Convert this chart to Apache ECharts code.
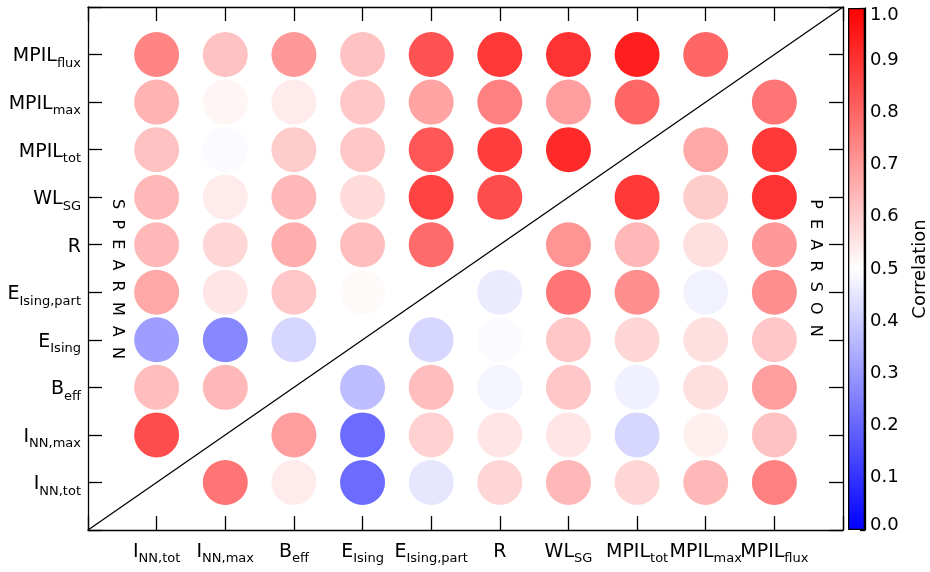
<!DOCTYPE html>
<html><head><meta charset="utf-8">
<script src="https://cdn.jsdelivr.net/npm/echarts@6/dist/echarts.min.js"></script>
<style>html,body{margin:0;padding:0;background:#fff}#c{width:930px;height:572px}</style>
</head><body><div id="c"></div>
<script>
// Variable labels (main text, subscript)
const varMain = ['I', 'I', 'B', 'E', 'E', 'R', 'WL', 'MPIL', 'MPIL', 'MPIL'];
const varSub  = ['NN,tot', 'NN,max', 'eff', 'Ising', 'Ising,part', '', 'SG', 'tot', 'max', 'flux'];

// Correlation rows (row variable = y position 1..10), columns follow varMain order.
// Upper-left triangle (column < row) = Spearman, lower-right (column > row) = Pearson.
const corrINNtot   = [null, 0.77, 0.54, 0.21, 0.45, 0.58, 0.64, 0.58, 0.64, 0.75];
const corrINNmax   = [0.85, null, 0.69, 0.21, 0.59, 0.55, 0.55, 0.42, 0.53, 0.62];
const corrBeff     = [0.63, 0.64, null, 0.37, 0.63, 0.48, 0.61, 0.47, 0.56, 0.69];
const corrEIsing   = [0.31, 0.265, 0.42, null, 0.42, 0.49, 0.61, 0.58, 0.56, 0.61];
const corrEpart    = [0.67, 0.55, 0.61, 0.51, null, 0.46, 0.77, 0.72, 0.475, 0.72];
const corrR        = [0.64, 0.58, 0.66, 0.63, 0.79, null, 0.71, 0.64, 0.56, 0.70];
const corrWL       = [0.64, 0.54, 0.64, 0.57, 0.87, 0.85, null, 0.89, 0.60, 0.90];
const corrMPILtot  = [0.62, 0.49, 0.60, 0.61, 0.83, 0.88, 0.92, null, 0.67, 0.89];
const corrMPILmax  = [0.65, 0.52, 0.54, 0.61, 0.68, 0.75, 0.69, 0.80, null, 0.77];
const corrMPILflux = [0.74, 0.62, 0.70, 0.62, 0.84, 0.89, 0.90, 0.94, 0.80, null];

const colorbarTicks = [0.0, 0.1, 0.2, 0.3, 0.4, 0.5, 0.6, 0.7, 0.8, 0.9, 1.0];

const rows = [corrINNtot, corrINNmax, corrBeff, corrEIsing, corrEpart, corrR, corrWL, corrMPILtot, corrMPILmax, corrMPILflux];
const points = [];
rows.forEach((row, yi) => row.forEach((v, xi) => { if (v !== null) points.push([xi + 1, yi + 1, v]); }));

const FONT = 'DejaVu Sans';
const rich = {
  m: { fontFamily: FONT, fontSize: 19, lineHeight: 22, color: '#000' },
  s: { fontFamily: FONT, fontSize: 13, lineHeight: 14, padding: [14, 0, 0, 0], color: '#000' }
};
function lab(v) {
  const i = Math.round(v) - 1;
  if (i < 0 || i > 9 || Math.abs(v - Math.round(v)) > 1e-6) return '';
  return '{m|' + varMain[i] + '}' + (varSub[i] ? '{s|' + varSub[i] + '}' : '');
}
const lineStyle = { color: '#000', width: 1.3 };
function tick() { return { show: true, inside: true, length: 14, lineStyle: { color: '#000', width: 1.3 } }; }
function axLine() { return { show: true, onZero: false, lineStyle: { color: '#000', width: 1.3 } }; }

const cbRich = {
  n: { fontFamily: FONT, fontSize: 18, color: '#000' },
  t: { fontFamily: FONT, fontSize: 18, color: '#000', padding: [14, 0, 0, 0] },
  b: { fontFamily: FONT, fontSize: 18, color: '#000', padding: [0, 0, 10, 0] }
};

const chart = echarts.init(document.getElementById('c'), null, { renderer: 'canvas' });
chart.setOption({
  animation: false,
  backgroundColor: '#fff',
  grid: [
    { left: 88, top: 7, width: 755, height: 523, containLabel: false },
    { left: 848, top: 8, width: 24, height: 522, containLabel: false }
  ],
  xAxis: [
    { gridIndex: 0, type: 'value', min: 0, max: 11, interval: 1, position: 'bottom',
      axisLine: axLine(), axisTick: tick(), splitLine: { show: false },
      axisLabel: { margin: 11, formatter: lab, rich } },
    { gridIndex: 0, type: 'value', min: 0, max: 11, interval: 1, position: 'top',
      axisLine: axLine(), axisTick: tick(), splitLine: { show: false },
      axisLabel: { show: false } },
    { gridIndex: 1, type: 'category', data: ['c'], show: false }
  ],
  yAxis: [
    { gridIndex: 0, type: 'value', min: 0, max: 11, interval: 1, position: 'left',
      axisLine: axLine(), axisTick: tick(), splitLine: { show: false },
      axisLabel: { margin: 7, padding: [4, 0, 0, 0], formatter: lab, rich } },
    { gridIndex: 0, type: 'value', min: 0, max: 11, interval: 1, position: 'right',
      axisLine: axLine(), axisTick: tick(), splitLine: { show: false },
      axisLabel: { show: false } },
    { gridIndex: 1, type: 'value', min: 0, max: 1, interval: 0.1, position: 'right',
      axisLine: axLine(),
      axisTick: { show: true, inside: true, length: 5, lineStyle: { color: '#000', width: 1.3 } },
      minorTick: { show: true, splitNumber: 2, length: 3, lineStyle: { color: '#000', width: 1 } },
      splitLine: { show: false },
      axisLabel: { margin: 5, rich: cbRich,
        formatter: v => {
          if (!colorbarTicks.some(t => Math.abs(t - v) < 1e-6)) return '';
          const s = v.toFixed(1);
          if (v > 0.99) return '{t|' + s + '}';
          if (v < 0.01) return '{b|' + s + '}';
          return '{n|' + s + '}';
        } },
      name: 'Correlation', nameLocation: 'middle', nameRotate: 90, nameGap: 46,
      nameTextStyle: { fontFamily: FONT, fontSize: 18, color: '#000' } }
  ],
  visualMap: {
    show: false, type: 'continuous', min: 0, max: 1, dimension: 2, seriesIndex: 0,
    inRange: { color: ['#0000ff', '#ffffff', '#ff0000'] }
  },
  series: [
    { type: 'scatter', xAxisIndex: 0, yAxisIndex: 0, symbol: 'circle', symbolSize: 45,
      data: points, itemStyle: { opacity: 1 }, z: 2 },
    { type: 'line', xAxisIndex: 0, yAxisIndex: 0, data: [[0, 0], [11, 11]], symbol: 'none',
      lineStyle: { color: '#000', width: 1.3 }, z: 3, silent: true },
    { type: 'bar', xAxisIndex: 2, yAxisIndex: 2, data: [1], barWidth: '100%', silent: true,
      itemStyle: {
        borderColor: '#000', borderWidth: 1.3,
        color: new echarts.graphic.LinearGradient(0, 1, 0, 0, [
          { offset: 0, color: '#0000ff' }, { offset: 0.5, color: '#ffffff' }, { offset: 1, color: '#ff0000' }
        ])
      } }
  ],
  graphic: [
    { type: 'text', x: 117, y: 279, rotation: -Math.PI / 2,
      style: { text: 'S  P  E  A  R  M  A  N', font: '16px "DejaVu Sans"', fill: '#000',
        textAlign: 'center', verticalAlign: 'middle', textVerticalAlign: 'middle' } },
    { type: 'text', x: 815, y: 268, rotation: -Math.PI / 2,
      style: { text: 'P  E  A  R  S  O  N', font: '16px "DejaVu Sans"', fill: '#000',
        textAlign: 'center', verticalAlign: 'middle', textVerticalAlign: 'middle' } }
  ]
});
</script>
</body></html>
